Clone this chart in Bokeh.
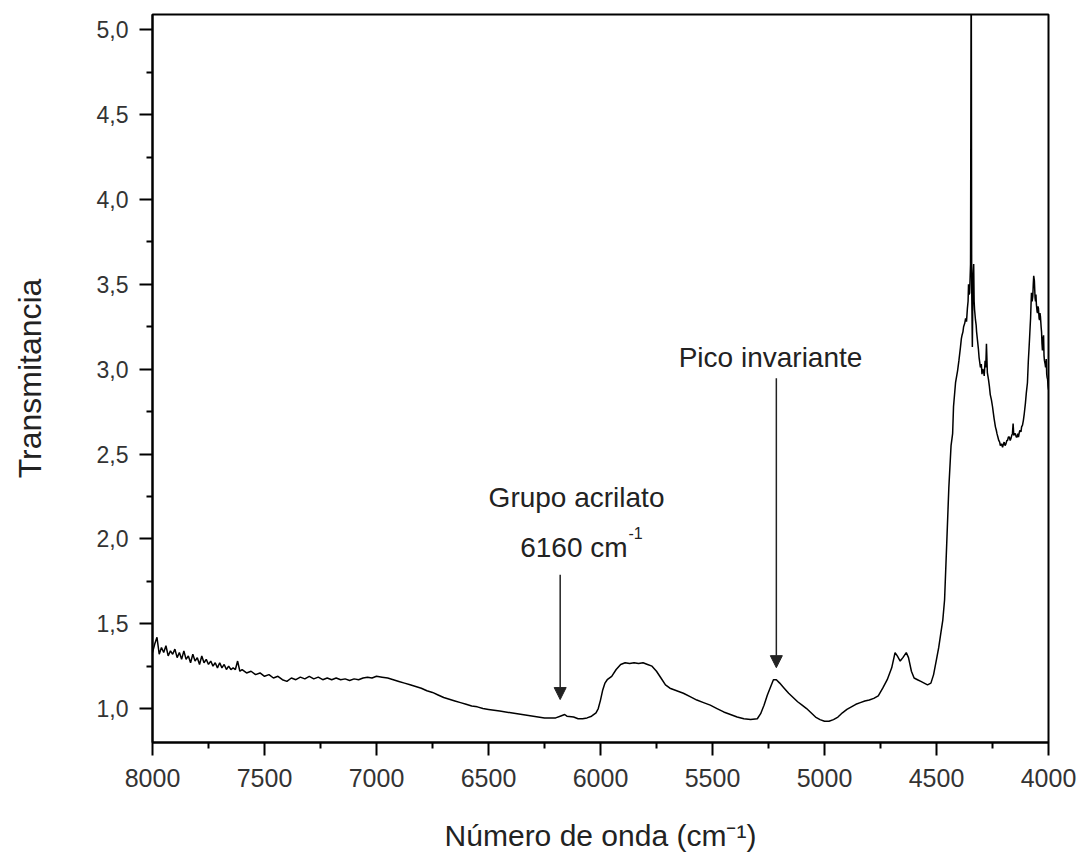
from bokeh.plotting import figure
from bokeh.models import Range1d, FixedTicker, CustomJSTickFormatter, Label, Arrow, NormalHead
from bokeh.embed import file_html
from bokeh.resources import INLINE

# ---- data ----
wavenumber = [
    8000, 7990, 7980, 7970, 7960, 7950, 7940, 7930, 7920, 7910, 7900, 7890, 7880, 7870, 7860,
    7850, 7840, 7830, 7820, 7810, 7800, 7790, 7780, 7770, 7760, 7750, 7740, 7730, 7720, 7710,
    7700, 7690, 7680, 7670, 7660, 7650, 7640, 7630, 7620, 7610, 7600,
    7580, 7560, 7540, 7520, 7500, 7480, 7460, 7440, 7420, 7400, 7380, 7360, 7340, 7320, 7300,
    7280, 7260, 7240, 7220, 7200, 7180, 7160, 7140, 7120, 7100, 7080, 7060, 7040, 7020, 7000,
    6975, 6950, 6925, 6900, 6875, 6850, 6825, 6800, 6775, 6750, 6725, 6700, 6675, 6650, 6625,
    6600, 6575, 6550, 6525, 6500, 6450, 6400, 6350, 6300, 6250, 6200, 6180, 6160, 6150, 6120,
    6100, 6080, 6060, 6040, 6020, 6010, 6000, 5990, 5980, 5970, 5950, 5930, 5910, 5890, 5870,
    5850, 5830, 5810, 5790, 5770, 5750, 5730, 5710, 5690, 5660, 5630, 5600, 5570, 5540, 5510,
    5480, 5450, 5420, 5390, 5360, 5330, 5300, 5285, 5270, 5255, 5240, 5228, 5215, 5200, 5180,
    5160, 5140, 5120, 5100, 5080, 5060, 5040, 5020, 5000, 4980, 4960, 4940, 4920, 4900, 4880,
    4860, 4840, 4820, 4800, 4780, 4760, 4740, 4720, 4700, 4685, 4675, 4662, 4650, 4635, 4625,
    4612, 4600, 4585, 4570, 4555, 4540, 4525, 4513, 4500, 4490, 4480, 4472, 4464, 4455, 4445,
    4435, 4428, 4424, 4415, 4406, 4400, 4393, 4389, 4386, 4382, 4379, 4374, 4370, 4366, 4362,
    4359, 4357, 4354, 4352, 4348, 4345, 4343, 4340, 4337, 4334, 4332, 4330, 4326, 4323, 4321,
    4317, 4313, 4310, 4307, 4304, 4300, 4297, 4294, 4290, 4287, 4283, 4280, 4277, 4273, 4268,
    4264, 4260, 4255, 4250, 4246, 4243, 4237, 4233, 4230, 4226, 4222, 4218, 4215, 4210, 4205,
    4201, 4198, 4194, 4190, 4186, 4183, 4179, 4175, 4171, 4168, 4164, 4161, 4158, 4155, 4151,
    4148, 4144, 4140, 4137, 4134, 4130, 4127, 4123, 4120, 4116, 4112, 4108, 4103, 4099, 4094,
    4090, 4087, 4085, 4082, 4080, 4078, 4076, 4073, 4070, 4068, 4066, 4063, 4060, 4058, 4056,
    4054, 4051, 4049, 4047, 4045, 4042, 4040, 4038, 4036, 4033, 4031, 4029, 4027, 4024, 4022,
    4020, 4018, 4015, 4013, 4010, 4008, 4006, 4004, 4002, 4000,
]
transmitancia = [
    1.33, 1.38, 1.42, 1.32, 1.36, 1.33, 1.37, 1.31, 1.34, 1.32, 1.35, 1.30, 1.33, 1.29, 1.34,
    1.29, 1.31, 1.27, 1.32, 1.28, 1.30, 1.26, 1.31, 1.27, 1.29, 1.26, 1.28, 1.25, 1.27, 1.24,
    1.27, 1.24, 1.26, 1.23, 1.25, 1.23, 1.24, 1.23, 1.28, 1.22, 1.23,
    1.21, 1.22, 1.20, 1.21, 1.19, 1.20, 1.18, 1.19, 1.17, 1.16, 1.18, 1.17, 1.185, 1.175, 1.19,
    1.175, 1.185, 1.17, 1.18, 1.17, 1.18, 1.17, 1.175, 1.165, 1.175, 1.17, 1.18, 1.185, 1.18, 1.19,
    1.185, 1.18, 1.17, 1.16, 1.15, 1.14, 1.13, 1.12, 1.105, 1.095, 1.08, 1.065, 1.055, 1.045, 1.035,
    1.025, 1.015, 1.01, 1.0, 0.995, 0.985, 0.975, 0.965, 0.955, 0.945, 0.945, 0.955, 0.965, 0.955, 0.95,
    0.94, 0.94, 0.945, 0.955, 0.975, 1.0, 1.05, 1.11, 1.15, 1.17, 1.19, 1.23, 1.26, 1.27, 1.265,
    1.27, 1.265, 1.27, 1.26, 1.25, 1.22, 1.18, 1.14, 1.12, 1.105, 1.09, 1.07, 1.05, 1.035, 1.02,
    1.0, 0.98, 0.965, 0.95, 0.94, 0.935, 0.94, 0.97, 1.02, 1.08, 1.13, 1.17, 1.17, 1.15, 1.12,
    1.09, 1.065, 1.04, 1.02, 1.0, 0.975, 0.95, 0.935, 0.925, 0.925, 0.935, 0.95, 0.975, 0.995, 1.01,
    1.025, 1.035, 1.045, 1.05, 1.06, 1.075, 1.12, 1.17, 1.24, 1.33, 1.31, 1.28, 1.30, 1.33, 1.30,
    1.22, 1.18, 1.17, 1.16, 1.15, 1.14, 1.15, 1.20, 1.29, 1.36, 1.45, 1.52, 1.64, 1.95, 2.30,
    2.55, 2.62, 2.78, 2.92, 2.99, 3.05, 3.13, 3.18, 3.20, 3.22, 3.25, 3.27, 3.30, 3.28, 3.36,
    3.40, 3.50, 3.44, 3.45, 3.62, 5.60, 3.50, 3.13, 3.55, 3.62, 3.40, 3.35, 3.29, 3.26, 3.22,
    3.17, 3.12, 3.07, 3.04, 3.01, 3.03, 2.97, 3.00, 2.99, 2.96, 3.05, 3.01, 3.15, 2.98, 2.94,
    2.90, 2.85, 2.82, 2.78, 2.74, 2.71, 2.66, 2.64, 2.62, 2.60, 2.58, 2.57, 2.55, 2.56, 2.54,
    2.56, 2.57, 2.55, 2.56, 2.58, 2.58, 2.60, 2.60, 2.58, 2.59, 2.61, 2.62, 2.68, 2.61, 2.62,
    2.62, 2.60, 2.60, 2.62, 2.60, 2.63, 2.64, 2.63, 2.66, 2.67, 2.70, 2.74, 2.80, 2.86, 2.92,
    3.05, 3.12, 3.17, 3.25, 3.30, 3.38, 3.45, 3.40, 3.43, 3.50, 3.55, 3.52, 3.42, 3.40, 3.44,
    3.38, 3.34, 3.33, 3.37, 3.36, 3.30, 3.29, 3.33, 3.31, 3.25, 3.22, 3.15, 3.11, 3.18, 3.20,
    3.08, 3.05, 3.03, 3.01, 3.06, 2.97, 2.95, 2.94, 2.90, 2.88,
]

x_ticks = [8000, 7500, 7000, 6500, 6000, 5500, 5000, 4500, 4000]
x_minor = [7750, 7250, 6750, 6250, 5750, 5250, 4750, 4250]
y_ticks = [1.0, 1.5, 2.0, 2.5, 3.0, 3.5, 4.0, 4.5, 5.0]
y_minor = [1.25, 1.75, 2.25, 2.75, 3.25, 3.75, 4.25, 4.75]

FONT = "Liberation Sans"
TXT = "#222222"

p = figure(width=1083, height=854, output_backend="svg", toolbar_location=None,
           x_range=Range1d(8000, 4000), y_range=Range1d(0.8, 5.09),
           min_border_left=152, min_border_right=35, min_border_top=14, min_border_bottom=111,
           background_fill_color="white", border_fill_color="white")

p.line(wavenumber, transmitancia, line_color="black", line_width=1.5)

p.xgrid.visible = False
p.ygrid.visible = False
p.outline_line_color = "black"
p.outline_line_width = 2

for ax in (p.xaxis[0], p.yaxis[0]):
    ax.axis_line_width = 2
    ax.axis_line_color = "black"
    ax.major_tick_line_width = 2
    ax.minor_tick_line_width = 2
    ax.major_tick_line_color = "black"
    ax.minor_tick_line_color = "black"
    ax.major_tick_in = 0
    ax.minor_tick_in = 0
    ax.major_tick_out = 13
    ax.minor_tick_out = 6
    ax.major_label_text_font = FONT
    ax.major_label_text_color = "#333333"

p.xaxis.ticker = FixedTicker(ticks=x_ticks, minor_ticks=x_minor)
p.yaxis.ticker = FixedTicker(ticks=y_ticks, minor_ticks=y_minor)
p.xaxis.formatter = CustomJSTickFormatter(code="return tick.toFixed(0);")
p.yaxis.formatter = CustomJSTickFormatter(code="return tick.toFixed(1).replace('.', ',');")
p.xaxis.major_label_text_font_size = "25px"
p.yaxis.major_label_text_font_size = "23px"
p.xaxis.major_label_standoff = 13
p.yaxis.major_label_standoff = 11

p.yaxis.axis_label = "Transmitancia"
p.yaxis.axis_label_text_font = FONT
p.yaxis.axis_label_text_font_size = "32px"
p.yaxis.axis_label_text_font_style = "normal"
p.yaxis.axis_label_text_color = TXT
p.yaxis.axis_label_standoff = 46

p.xaxis.axis_label = "Número de onda (cm\u207b\u00b9)"
p.xaxis.axis_label_text_font = FONT
p.xaxis.axis_label_text_font_size = "30px"
p.xaxis.axis_label_text_font_style = "normal"
p.xaxis.axis_label_text_color = TXT
p.xaxis.axis_label_standoff = 29


def lab(x, y, text, size, align="left"):
    p.add_layout(Label(x=x, y=y, text=text, text_font=FONT, text_font_size=size,
                       text_color=TXT, text_align=align, text_baseline="alphabetic"))


# annotations
lab(6107, 2.241, "Grupo acrilato", "28px", "center")
lab(5879, 1.947, "6160 cm", "28px", "right")
lab(5875, 2.035, "-1", "16px", "left")
lab(5241, 3.07, "Pico invariante", "28px", "center")

for ax_x, y0, y1 in [(6180, 1.788, 1.053), (5215, 2.947, 1.241)]:
    p.add_layout(Arrow(x_start=ax_x, y_start=y0, x_end=ax_x, y_end=y1,
                       line_color="#222222", line_width=1.5,
                       end=NormalHead(size=12, fill_color="#222222", line_color="#222222")))

open("out.html", "w").write(file_html(p, INLINE))
